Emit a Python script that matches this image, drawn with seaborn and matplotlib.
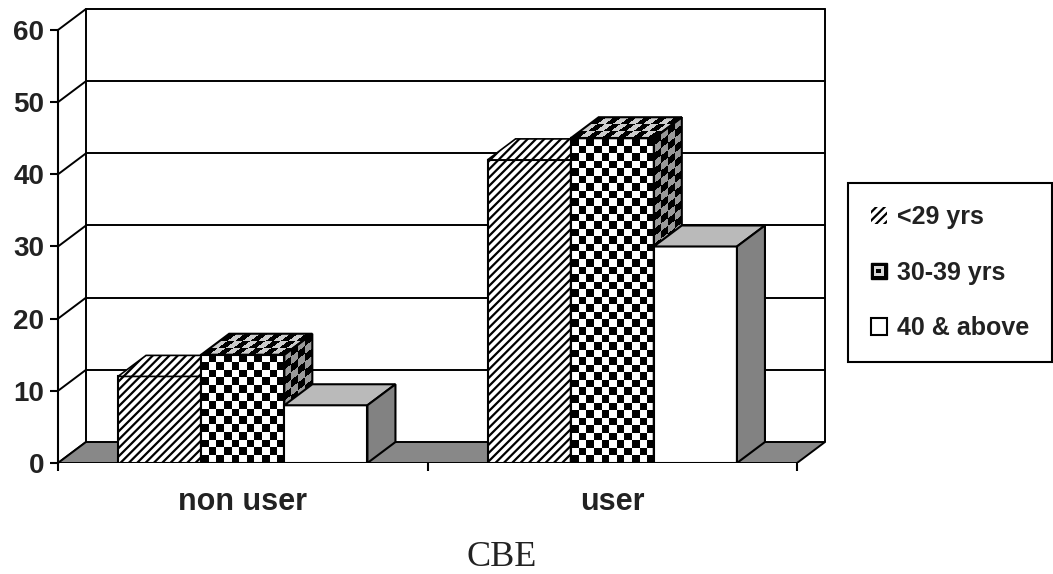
import numpy as np
import pandas as pd
import matplotlib
matplotlib.use("Agg")
import matplotlib.pyplot as plt
import seaborn as sns
from matplotlib.patches import Polygon, Patch, Rectangle
from matplotlib.transforms import Affine2D
from matplotlib.legend_handler import HandlerBase

# ---- data -------------------------------------------------------------
groups = ["non user", "user"]
age_bands = ["<29 yrs", "30-39 yrs", "40 & above"]
pct_lt29 = [12, 42]
pct_30_39 = [15, 45]
pct_40_up = [8, 30]
y_ticks = [0, 10, 20, 30, 40, 50, 60]
x_title = "CBE"

df = pd.DataFrame({
    "group": groups * 3,
    "age": [a for a in age_bands for _ in groups],
    "pct": pct_lt29 + pct_30_39 + pct_40_up,
})

# ---- style ------------------------------------------------------------
sns.set_theme(style="white")
plt.rcParams["font.family"] = ["Liberation Sans", "DejaVu Sans"]
plt.rcParams["hatch.linewidth"] = 1.6

W, H = 1053, 574
fig = plt.figure(figsize=(W / 100, H / 100), dpi=100)

XMIN, XMAX = -0.5, 1.6
YMIN, YMAX = 0, 63.2
PX_X, PX_Y = 369.5, 7.217          # pixels per data unit
left_px, base_px = 58, 463
ax = fig.add_axes([left_px / W, (H - base_px) / H,
                   (XMAX - XMIN) * PX_X / W, (YMAX - YMIN) * PX_Y / H])

# depth of the pseudo-3D box, in data units
DX = 28 / PX_X
DY = 21 / PX_Y
XR = 1.5  # right end of the category axis

# ---- front faces of the bars ------------------------------------------
sns.barplot(data=df, x="group", y="pct", hue="age", order=groups,
            hue_order=age_bands, palette={a: "white" for a in age_bands},
            width=0.675, edgecolor="black", linewidth=1.5, saturation=1,
            legend=False, ax=ax)

# ---- back walls and floor ---------------------------------------------
LW = 1.4
for v in y_ticks:
    ax.plot([XMIN, XMIN + DX], [v, v + DY], color="black", lw=LW,
            zorder=1, clip_on=False, solid_capstyle="butt")
    if v > 0:
        ax.plot([XMIN + DX, XR + DX], [v + DY, v + DY], color="black",
                lw=LW, zorder=1)
for xv in (XMIN + DX, XR + DX):
    ax.plot([xv, xv], [DY, y_ticks[-1] + DY], color="black", lw=LW, zorder=1)

floor = Polygon([(XMIN, 0), (XR, 0), (XR + DX, DY), (XMIN + DX, DY)],
                closed=True, facecolor="#888888", edgecolor="black",
                lw=LW, zorder=2)
ax.add_patch(floor)


def checker(rows, cols, light):
    r, c = np.indices((max(rows, 1), max(cols, 1)))
    return np.where((r + c) % 2 == 0, 0.0, light)


def checker_face(arr, a, b, c, d, e, f, z):
    im = ax.imshow(arr, cmap="gray", vmin=0, vmax=1, interpolation="nearest",
                   aspect="auto", origin="lower", extent=(0, 1, 0, 1),
                   zorder=z)
    im.set_transform(Affine2D.from_values(a, b, c, d, e, f) + ax.transData)
    return im


CELL = 7.5  # checker cell size in pixels
for k, cont in enumerate(ax.containers):
    for j, rect in enumerate(cont):
        x0, w, h = rect.get_x(), rect.get_width(), rect.get_height()
        z = 3 + (j * 3 + k)
        top = [(x0, h), (x0 + w, h), (x0 + w + DX, h + DY), (x0 + DX, h + DY)]
        side = [(x0 + w, 0), (x0 + w + DX, DY), (x0 + w + DX, h + DY), (x0 + w, h)]
        rect.set_zorder(z)
        if k == 0:
            rect.set_hatch("////")
            ax.add_patch(Polygon(top, closed=True, facecolor="white",
                                 edgecolor="black", hatch="////", lw=1.2, zorder=z))
            ax.add_patch(Polygon(side, closed=True, facecolor="#a0a0a0",
                                 edgecolor="black", hatch="////", lw=1.2, zorder=z))
        elif k == 1:
            cols = 11
            rows = int(round(h * PX_Y / (w * PX_X / cols)))
            im = ax.imshow(checker(rows, cols, 1.0), cmap="gray", vmin=0, vmax=1,
                           interpolation="nearest", aspect="auto", origin="lower",
                           extent=(x0, x0 + w, 0, h), zorder=z + 0.1)
            im.set_clip_path(rect)
            # top face
            checker_face(checker(3, cols, 0.8), w, 0, DX, DY, x0, h, z + 0.1)
            # side face
            checker_face(checker(rows, 4, 0.6), DX, DY, 0, h, x0 + w, 0, z + 0.1)
            ax.add_patch(Rectangle((x0, 0), w, h, fill=False, edgecolor="black",
                                   lw=1.5, zorder=z + 0.3))
            ax.add_patch(Polygon(top, closed=True, fill=False,
                                 edgecolor="black", lw=1.5, zorder=z + 0.3))
            ax.add_patch(Polygon(side, closed=True, fill=False,
                                 edgecolor="black", lw=1.5, zorder=z + 0.3))
        else:
            ax.add_patch(Polygon(top, closed=True, facecolor="#bababa",
                                 edgecolor="black", lw=1.5, zorder=z))
            ax.add_patch(Polygon(side, closed=True, facecolor="#828282",
                                 edgecolor="black", lw=1.5, zorder=z))

# ---- axes -------------------------------------------------------------
ax.set_xlim(XMIN, XMAX)
ax.set_ylim(YMIN, YMAX)
ax.set_xlabel("")
ax.set_ylabel("")
for s in ("top", "right", "bottom"):
    ax.spines[s].set_visible(False)
ax.spines["left"].set_bounds(0, y_ticks[-1])
ax.spines["left"].set_linewidth(1.5)
ax.spines["left"].set_color("black")

ax.set_yticks(y_ticks)
ax.set_yticklabels([str(v) for v in y_ticks], fontsize=20, fontweight="bold",
                   color="#222222")
ax.tick_params(axis="y", which="major", left=True, length=6, width=1.5,
               direction="out", pad=4, color="black")

ax.set_xticks([0, 1])
ax.set_xticklabels(groups, fontsize=22, fontweight="bold", color="#222222")
ax.set_xticks([XMIN, 0.5, XR], minor=True)
ax.tick_params(axis="x", which="major", bottom=True, length=0, pad=17)
ax.tick_params(axis="x", which="minor", bottom=True, length=6, width=1.5,
               direction="out", color="black")

fig.text(502 / W, 1 - 558 / H, x_title, ha="center", va="center",
         fontsize=26, family="Liberation Serif", color="#222222")


# ---- legend -----------------------------------------------------------
class NestedSquares(HandlerBase):
    def create_artists(self, legend, orig_handle, xdescent, ydescent,
                       width, height, fontsize, trans):
        s = min(width, height)
        x0 = -xdescent + (width - s) / 2
        y0 = -ydescent + (height - s) / 2
        return [
            Rectangle((x0, y0), s, s, facecolor="black", edgecolor="black",
                      lw=1, transform=trans),
            Rectangle((x0 + s * 0.2, y0 + s * 0.2), s * 0.6, s * 0.6,
                      facecolor="#d8d8d8", edgecolor="none", transform=trans),
            Rectangle((x0 + s * 0.36, y0 + s * 0.36), s * 0.28, s * 0.28,
                      facecolor="black", edgecolor="none", transform=trans),
        ]


h_hatch = Patch(facecolor="white", edgecolor="black", hatch="////", lw=0)
h_check = Patch(facecolor="black")
h_white = Patch(facecolor="white", edgecolor="black", lw=1.5)
leg = fig.legend([h_hatch, h_check, h_white], age_bands,
                 handler_map={h_check: NestedSquares()},
                 loc="upper left", bbox_to_anchor=(848 / W, 1 - 183 / H),
                 borderaxespad=0, frameon=True, fancybox=False,
                 edgecolor="black", framealpha=1, borderpad=0.9,
                 labelspacing=1.25, handlelength=0.65, handleheight=0.65,
                 handletextpad=0.4, prop={"size": 18, "weight": "bold"})
leg.get_frame().set_linewidth(1.5)
for t in leg.get_texts():
    t.set_color("#222222")

fig.savefig("out.png", dpi=100)
